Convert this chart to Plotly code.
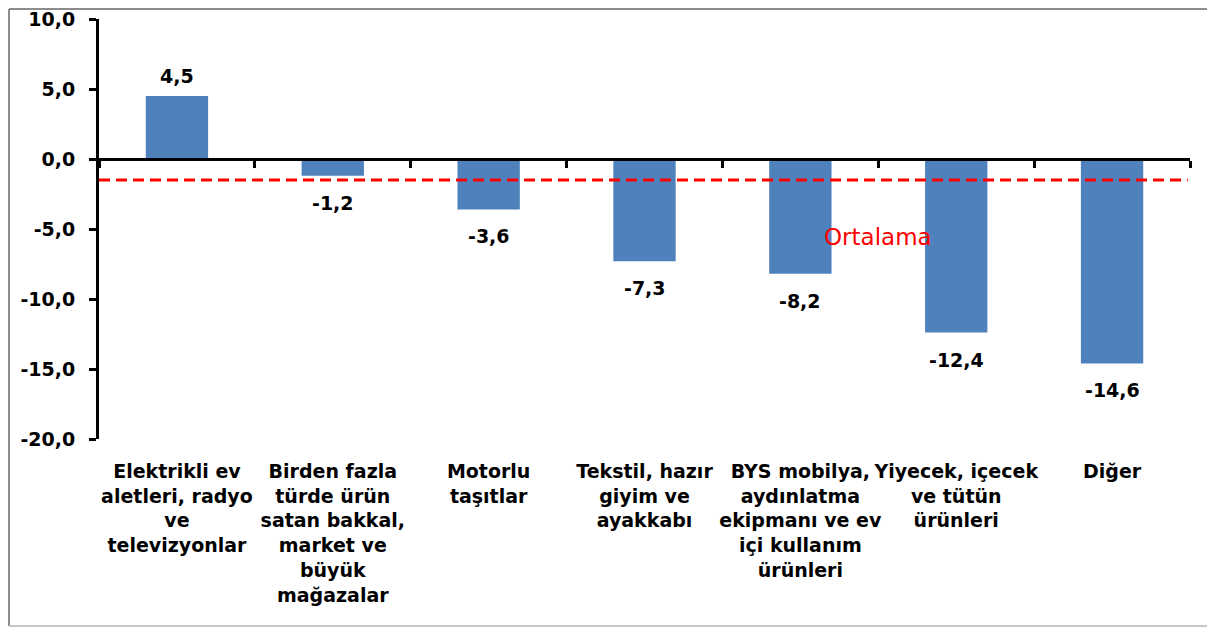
import plotly.graph_objects as go

categories = [
    "Elektrikli ev<br>aletleri, radyo<br>ve<br>televizyonlar",
    "Birden fazla<br>türde ürün<br>satan bakkal,<br>market ve<br>büyük<br>mağazalar",
    "Motorlu<br>taşıtlar",
    "Tekstil, hazır<br>giyim ve<br>ayakkabı",
    "BYS mobilya,<br>aydınlatma<br>ekipmanı ve ev<br>içi kullanım<br>ürünleri",
    "Yiyecek, içecek<br>ve tütün<br>ürünleri",
    "Diğer",
]
values = [4.5, -1.2, -3.6, -7.3, -8.2, -12.4, -14.6]
average = -1.5
average_label = "Ortalama"
y_ticks = [10, 5, 0, -5, -10, -15, -20]


def fmt(v):
    return f"{v:.1f}".replace(".", ",")


FONT = "DejaVu Sans"
idx = list(range(len(categories)))

# page body has an 8px margin, so the figure is sized to fit inside the window
W, H = 1207, 619
ML, MR, MT, MB = 91, 25, 11, 188
PW, PH = W - ML - MR, H - MT - MB

fig = go.Figure()
fig.add_trace(go.Bar(
    x=idx, y=values, marker=dict(color="#4F81BD", line=dict(width=0)),
    width=0.4, hoverinfo="skip", showlegend=False, xaxis="x", yaxis="y",
))
# invisible trace to carry the label axis
fig.add_trace(go.Scatter(
    x=idx, y=values, mode="markers", marker=dict(opacity=0),
    hoverinfo="skip", showlegend=False, xaxis="x2", yaxis="y",
))

# average line
fig.add_shape(type="line", xref="paper", x0=0, x1=0.998, yref="y", y0=average, y1=average,
              line=dict(color="#FF0000", width=3, dash="11px,6px"), layer="above")

# data labels
for i, v in enumerate(values):
    fig.add_annotation(
        x=i, y=v, xref="x", yref="y",
        text=fmt(v), showarrow=False,
        yshift=20 if v >= 0 else -27, yanchor="middle",
        font=dict(family=FONT, size=19, color="black", weight="bold"),
    )

fig.add_annotation(x=4.5, y=-5.6, xref="x", yref="y", text=average_label, showarrow=False,
                   font=dict(family=FONT, size=23, color="#FF0000"))

# outer border (left, top, bottom)
bx0 = (1 - ML) / PW
bx1 = (W - ML) / PW
by0 = -(H - 1 - MT - PH) / PH
by1 = 1 + (MT - 1) / PH
for (xa, ya, xb, yb, col) in [
    (bx0, by0, bx0, by1, "#8C8C8C"),
    (bx0, by1, bx1, by1, "#8C8C8C"),
    (bx0, by0, bx1, by0, "#C8C8C8"),
]:
    fig.add_shape(type="line", xref="paper", yref="paper", x0=xa, y0=ya, x1=xb, y1=yb,
                  line=dict(color=col, width=2), layer="below")

fig.update_layout(
    width=W, height=H,
    margin=dict(l=ML, r=MR, t=MT, b=MB),
    paper_bgcolor="white", plot_bgcolor="white",
    bargap=0.6,
    xaxis=dict(
        range=[-0.5, len(categories) - 0.5], anchor="free", position=20 / 30,
        showline=True, linecolor="black", linewidth=3,
        tickmode="array", tickvals=[i - 0.5 for i in range(len(categories) + 1)],
        ticks="outside", ticklen=7, tickwidth=3, tickcolor="black",
        showticklabels=False, showgrid=False, zeroline=False, automargin=False,
    ),
    xaxis2=dict(
        overlaying="x", anchor="y", side="bottom",
        range=[-0.5, len(categories) - 0.5],
        tickmode="array", tickvals=idx, ticktext=categories, tickangle=0,
        showline=False, ticks="", showgrid=False, zeroline=False,
        ticklabelstandoff=19, automargin=False, ticklabeloverflow="allow",
        tickfont=dict(family=FONT, size=19, color="black", weight="bold"),
    ),
    yaxis=dict(
        range=[-20, 10], tickmode="array", tickvals=y_ticks,
        ticktext=[fmt(v) for v in y_ticks],
        showline=True, linecolor="black", linewidth=3,
        ticks="outside", ticklen=7, tickwidth=3, tickcolor="black",
        showgrid=False, zeroline=False, ticklabelstandoff=10, automargin=False,
        ticklabeloverflow="allow",
        tickfont=dict(family=FONT, size=19, color="black", weight="bold"),
    ),
)

fig.write_html("out.html")
